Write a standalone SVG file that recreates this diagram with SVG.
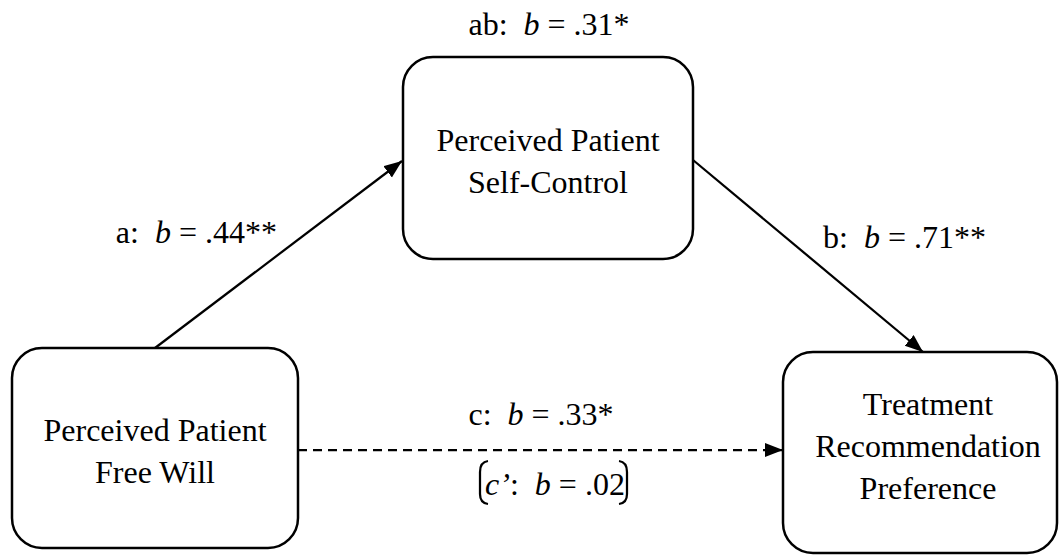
<svg xmlns="http://www.w3.org/2000/svg" width="1061" height="557" viewBox="0 0 1061 557">
<style>
  text { font-family: 'Liberation Serif', Tinos, 'Times New Roman', 'DejaVu Serif', serif; font-size: 32px; fill: #000; }
  .c { text-anchor: middle; }
  .i { font-style: italic; }
  .box { fill: #fff; stroke: #000; stroke-width: 2.5; }
  .ln { fill: none; stroke: #000; stroke-width: 2.25; }
  .dash { stroke-dasharray: 9 6; }
</style>
<defs>
  <marker id="ah" markerUnits="userSpaceOnUse" markerWidth="20" markerHeight="16" refX="18" refY="7" orient="auto">
    <path d="M0,0 L18,7 L0,14 Z" fill="#000"/>
  </marker>
</defs>
<rect width="1061" height="557" fill="#fff"/>
<g id="connectors">
  <line class="ln" x1="155" y1="348" x2="402" y2="161" marker-end="url(#ah)"/>
  <line class="ln" x1="693" y1="160" x2="923" y2="352" marker-end="url(#ah)"/>
  <line class="ln dash" x1="298" y1="450" x2="783" y2="450" marker-end="url(#ah)"/>
</g>
<g id="node-free-will">
  <rect class="box" x="12" y="348" width="286" height="200" rx="30"/>
  <text class="c" x="155" y="441">Perceived Patient</text>
  <text class="c" x="155" y="483">Free Will</text>
</g>
<g id="node-self-control">
  <rect class="box" x="403" y="57" width="290" height="202" rx="30"/>
  <text class="c" x="548" y="151">Perceived Patient</text>
  <text class="c" x="548" y="193">Self-Control</text>
</g>
<g id="node-treatment">
  <rect class="box" x="783" y="352" width="274" height="201" rx="30"/>
  <text class="c" x="928" y="415">Treatment</text>
  <text class="c" x="928" y="457">Recommendation</text>
  <text class="c" x="928" y="499">Preference</text>
</g>
<g id="labels">
  <text class="c" x="549" y="35" xml:space="preserve">ab:  <tspan class="i">b</tspan> = .31*</text>
  <text x="277" y="243" text-anchor="end" xml:space="preserve">a:  <tspan class="i">b</tspan> = .44**</text>
  <text x="823" y="248" xml:space="preserve">b:  <tspan class="i">b</tspan> = .71**</text>
  <text class="c" x="541" y="425" xml:space="preserve">c:  <tspan class="i">b</tspan> = .33*</text>
  <text class="c" x="555" y="495" xml:space="preserve"><tspan class="i">c’</tspan>:  <tspan class="i">b</tspan> = .02</text>
  <path class="ln" d="M488,461 Q480,462 480,472 L480,494 Q480,503 488,504"/>
  <path class="ln" d="M619,461 Q627,462 627,472 L627,494 Q627,503 619,504"/>
</g>
</svg>
